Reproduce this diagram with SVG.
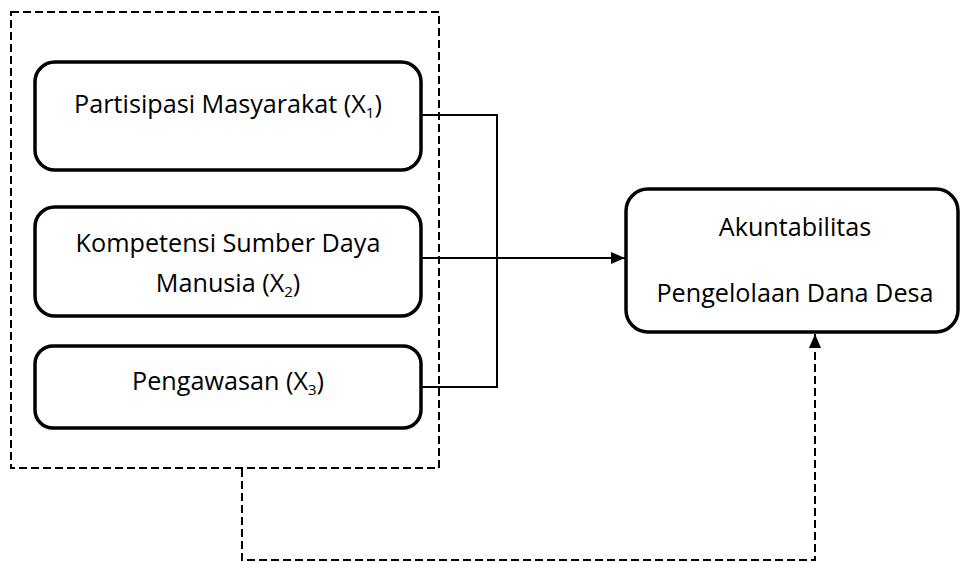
<svg xmlns="http://www.w3.org/2000/svg" width="960" height="562" viewBox="0 0 960 562">
<style>
.box{fill:#fff;stroke:#000;stroke-width:3.5}
.t{font-family:"Open Sans","Liberation Sans",sans-serif;font-size:25.2px;fill:#000;text-anchor:middle}
.sub{font-size:15px}
.ln{fill:none;stroke:#000;stroke-width:2}
.dash{fill:none;stroke:#000;stroke-width:2;stroke-dasharray:8,4}
</style>
<defs>
<marker id="ah" viewBox="0 0 14 12" refX="14" refY="6" markerWidth="14" markerHeight="12" markerUnits="userSpaceOnUse" orient="auto">
<path d="M0,0 L14,6 L0,12 Z" fill="#000"/>
</marker>
</defs>
<rect id="group" class="dash" x="11" y="12" width="428" height="456"/>
<g id="connectors">
<polyline class="ln" points="421,115 497,115 497,387 421,387"/>
<line class="ln" x1="421" y1="258" x2="625" y2="258" marker-end="url(#ah)"/>
<polyline class="dash" points="242,469 242,560 815,560 815,334" marker-end="url(#ah)"/>
</g>
<g id="x1">
<rect class="box" x="35" y="62" width="386" height="108" rx="20"/>
<text class="t" x="228" y="113">Partisipasi Masyarakat (X<tspan class="sub" dy="5">1</tspan><tspan dy="-5">)</tspan></text>
</g>
<g id="x2">
<rect class="box" x="35" y="207" width="386" height="109" rx="20"/>
<text class="t" x="228" y="252">Kompetensi Sumber Daya</text>
<text class="t" x="228" y="292">Manusia (X<tspan class="sub" dy="5">2</tspan><tspan dy="-5">)</tspan></text>
</g>
<g id="x3">
<rect class="box" x="35" y="346" width="386" height="82" rx="18"/>
<text class="t" x="228" y="390">Pengawasan (X<tspan class="sub" dy="5">3</tspan><tspan dy="-5">)</tspan></text>
</g>
<g id="y">
<rect class="box" x="626" y="189" width="332" height="143" rx="22"/>
<text class="t" x="795" y="236">Akuntabilitas</text>
<text class="t" x="795" y="302">Pengelolaan Dana Desa</text>
</g>
</svg>
